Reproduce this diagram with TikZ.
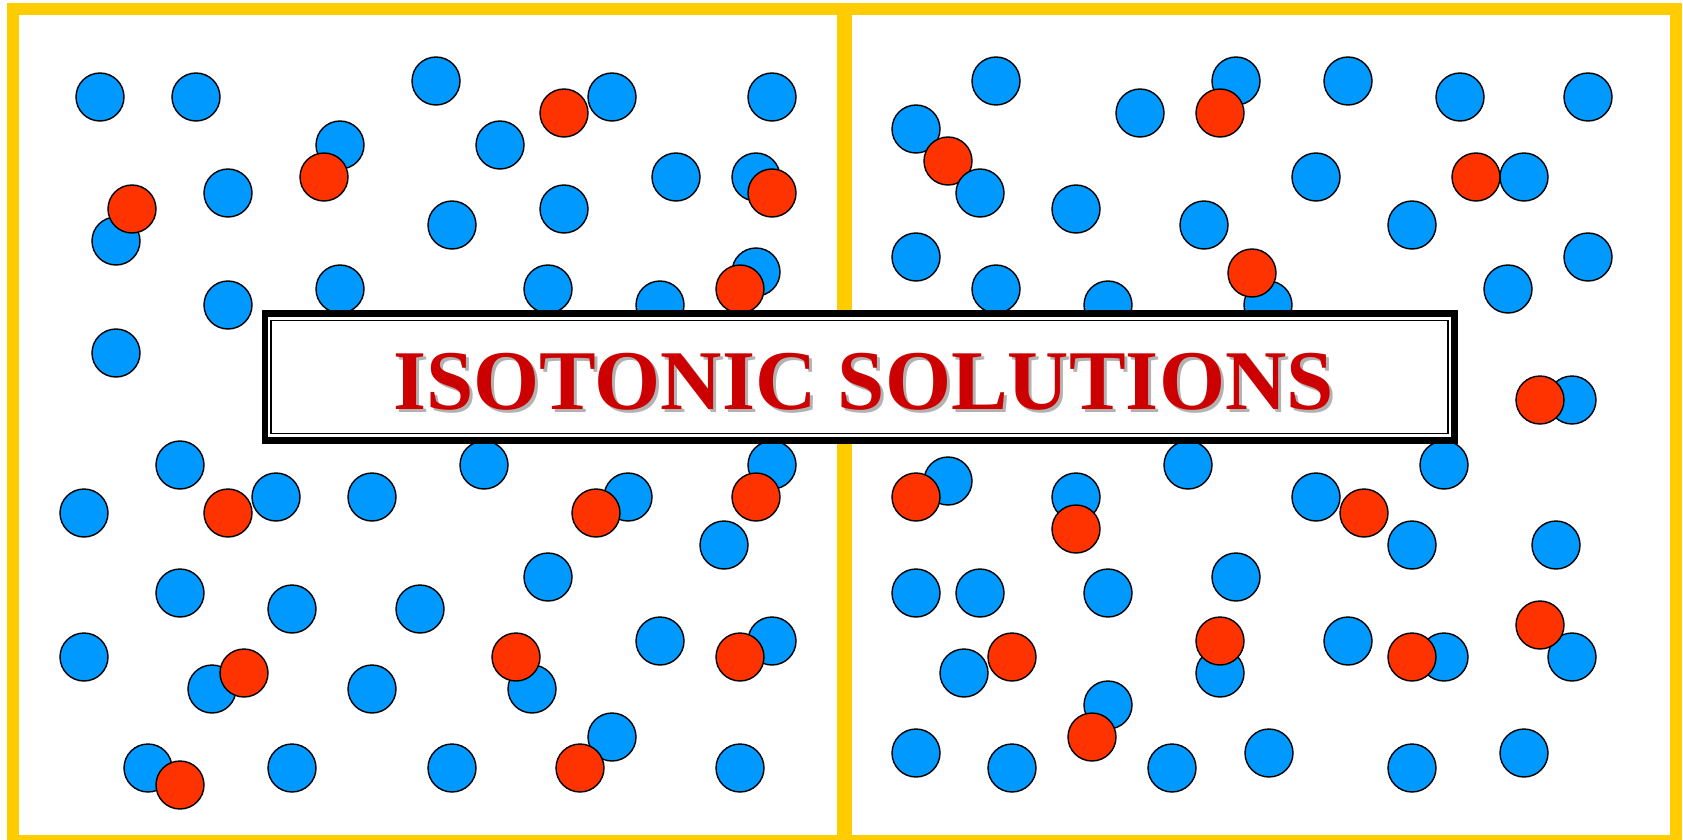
\documentclass[tikz,border=0pt]{standalone}
\usepackage{fontspec}
\setmainfont{Liberation Serif}
\definecolor{frameyellow}{HTML}{FFCC00}
\definecolor{waterblue}{HTML}{0099FF}
\definecolor{solutered}{HTML}{FF3300}
\definecolor{titlered}{HTML}{CC0000}

\begin{document}
\begin{tikzpicture}[x=0.5pt,y=-0.5pt,
  water/.style={fill=waterblue,draw=black,line width=0.7pt},
  solute/.style={fill=solutered,draw=black,line width=0.7pt},
  wall/.style={draw=frameyellow,line width=6pt}]
\useasboundingbox (0,0) rectangle (1683,840);
% ---------- water ----------
\foreach \x/\y in {100/97,196/97,436/81,612/97,772/97,340/145,500/145,
  676/177,756/177,116/241,228/193,452/225,564/209,228/305,340/289,
  548/289,660/305,756/272,116/353,
  180/465,484/465,772/465,84/513,276/497,372/497,628/497,724/545,
  180/593,548/577,292/609,420/609,84/657,212/689,372/689,532/689,
  660/641,772/641,612/737,148/768,292/768,452/768,740/768,
  996/81,916/129,1140/113,1236/81,1348/81,1460/97,1588/97,1076/209,
  1204/225,1316/177,1524/177,1412/225,916/257,996/289,1108/305,
  1268/305,1508/289,1588/257,1572/400,
  948/481,1076/497,1188/465,1444/465,1316/497,1412/545,1556/545,
  916/593,980/593,1108/593,1236/577,964/673,1220/673,1348/641,
  1444/657,1572/657,1108/705,916/753,1012/768,1172/768,1269/753,
  1412/768,1524/753}
  \draw[water] (\x,\y) circle[radius=24];
% ---------- solute ----------
\foreach \x/\y in {564/113,324/177,132/209,772/193,740/289,
  228/513,596/513,756/497,516/657,740/657,244/673,580/768,180/785,
  948/161,1220/113,1476/177,1252/273,1540/400,
  916/497,1076/529,1364/513,1012/657,1220/641,1412/657,1540/625,1092/737}
  \draw[solute] (\x,\y) circle[radius=24];
\draw[water] (980,193) circle[radius=24];
% ---------- container ----------
\draw[wall] (12.5,9.2) rectangle (1676,840.9);
\draw[wall,line width=7.5pt] (844,9.2) -- (844,840.9);
% ---------- title ----------
\draw[fill=white,line width=3.25pt] (265,313.3) rectangle (1454.5,440.5);
\draw[line width=0.75pt] (271,320.5) rectangle (1448,433.5);
\node[anchor=base,inner sep=0pt,text=black!30,
  font=\bfseries\fontsize{42.5}{50}\selectfont] (titleshadow) at (866.5,412) {ISOTONIC SOLUTIONS};
\node[anchor=base,inner sep=0pt,text=titlered,
  font=\bfseries\fontsize{42.5}{50}\selectfont] (title) at (863.5,409) {ISOTONIC SOLUTIONS};
\end{tikzpicture}
\end{document}
